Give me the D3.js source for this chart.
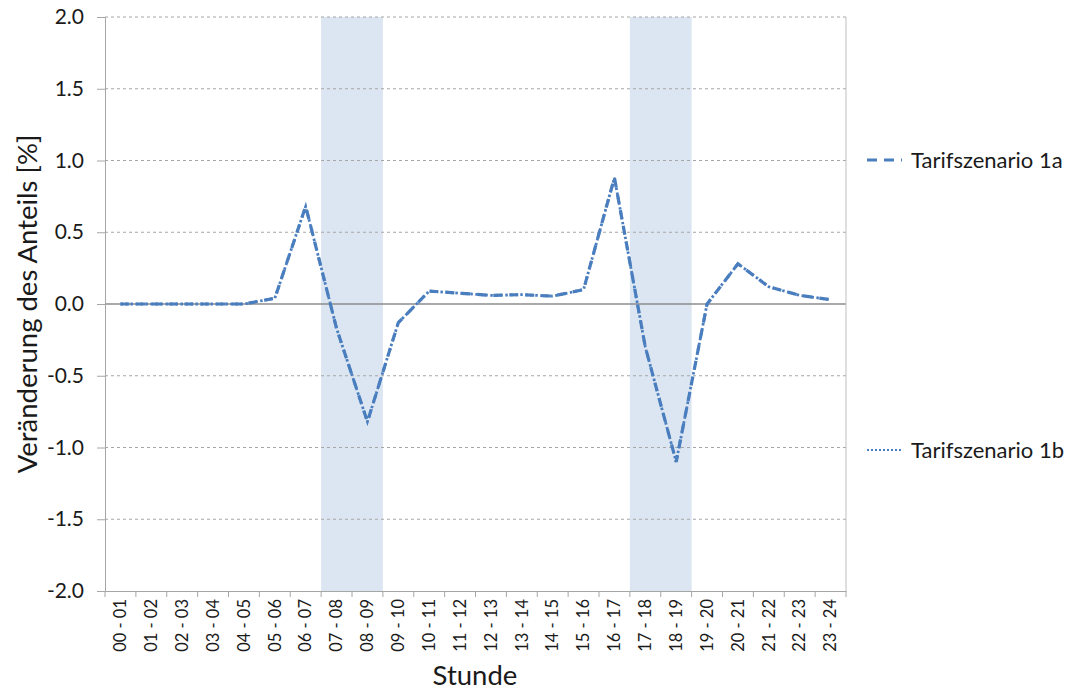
<!DOCTYPE html>
<html><head><meta charset="utf-8">
<script src="https://cdn.jsdelivr.net/npm/d3@7"></script>
<style>body{margin:0;background:#fff}svg{display:block}</style>
</head><body>
<svg id="c" width="1070" height="691"></svg>
<script>
const categories = ["00 - 01","01 - 02","02 - 03","03 - 04","04 - 05","05 - 06","06 - 07","07 - 08","08 - 09","09 - 10","10 - 11","11 - 12","12 - 13","13 - 14","14 - 15","15 - 16","16 - 17","17 - 18","18 - 19","19 - 20","20 - 21","21 - 22","22 - 23","23 - 24"];
const series1a = [0,0,0,0,0,0.04,0.68,-0.17,-0.82,-0.13,0.09,0.075,0.06,0.065,0.055,0.10,0.88,-0.30,-1.10,0.0,0.28,0.12,0.06,0.03];
const series1b = [0,0,0,0,0,0.04,0.68,-0.17,-0.82,-0.13,0.09,0.075,0.06,0.065,0.055,0.10,0.88,-0.30,-1.10,0.0,0.28,0.12,0.06,0.03];
const seriesNames = ["Tarifszenario 1a","Tarifszenario 1b"];
const yTicks = [-2.0,-1.5,-1.0,-0.5,0.0,0.5,1.0,1.5,2.0];
const shaded = [["07 - 08","08 - 09"],["17 - 18","18 - 19"]];

const svg = d3.select("#c");
const m = {l:105, r:846, t:17, b:591};
const x = d3.scaleBand().domain(categories).range([m.l, m.r]).padding(0);
const y = d3.scaleLinear().domain([-2,2]).range([m.b, m.t]);
const font = "Lato, 'Open Sans', sans-serif";
const lineColor = "#4a7ebe";
const txt = "#1a1a1a";

shaded.forEach(([a,b]) => {
  svg.append("rect").attr("x", x(a)).attr("y", m.t)
    .attr("width", x(b) + x.bandwidth() - x(a)).attr("height", m.b - m.t)
    .attr("fill", "#dce6f2");
});

svg.append("g").selectAll("line").data(yTicks.filter(d => d !== 0 && d !== -2))
  .join("line").attr("x1", m.l).attr("x2", m.r)
  .attr("y1", d => y(d)).attr("y2", d => y(d))
  .attr("stroke", "#a6a6a6").attr("stroke-width", 1).attr("stroke-dasharray", "3,3");

svg.append("line").attr("x1", m.l).attr("x2", m.r).attr("y1", y(0)).attr("y2", y(0))
  .attr("stroke", "#8c8c8c").attr("stroke-width", 1.5);

svg.append("line").attr("x1", m.r).attr("x2", m.r).attr("y1", m.t).attr("y2", m.b)
  .attr("stroke", "#bfbfbf").attr("stroke-width", 1);

const fmt = d => d.toFixed(1);
const yAxis = d3.axisLeft(y).tickValues(yTicks).tickFormat(fmt).tickSize(8).tickPadding(13);
const gy = svg.append("g").attr("transform", `translate(${m.l},0)`).call(yAxis);
gy.select(".domain").attr("stroke", "#a6a6a6");
gy.selectAll(".tick line").attr("stroke", "#a6a6a6");
gy.selectAll("text").attr("font-family", font).attr("font-size", 21).attr("fill", txt);

const xAxis = d3.axisBottom(x).tickSize(0).tickFormat(d => d);
const gx = svg.append("g").attr("transform", `translate(0,${m.b})`).call(xAxis);
gx.select(".domain").attr("stroke", "#a6a6a6");
gx.selectAll("text").attr("font-family", font).attr("font-size", 16.5).attr("fill", txt)
  .attr("transform", "rotate(-90)").attr("text-anchor", "end")
  .attr("x", -8).attr("y", 0).attr("dy", "0.35em");
const bounds = categories.map(c => x(c)).concat([m.r]);
svg.append("g").selectAll("line").data(bounds).join("line")
  .attr("x1", d => d).attr("x2", d => d).attr("y1", m.b).attr("y2", m.b + 6)
  .attr("stroke", "#a6a6a6");

const line = d3.line().x((d,i) => x(categories[i]) + x.bandwidth()/2).y(d => y(d));
svg.append("path").datum(series1a).attr("d", line).attr("fill", "none")
  .attr("stroke", lineColor).attr("stroke-width", 3.2).attr("stroke-dasharray", "9,7");
svg.append("path").datum(series1b).attr("d", line).attr("fill", "none")
  .attr("stroke", lineColor).attr("stroke-width", 2.8).attr("stroke-dasharray", "2.5,2.5");

svg.append("text").attr("transform", `translate(37,${y(0)}) rotate(-90)`)
  .attr("text-anchor", "middle").attr("font-family", font).attr("font-size", 27.5).attr("fill", txt)
  .text("Veränderung des Anteils [%]");
svg.append("text").attr("x", 475).attr("y", 685)
  .attr("text-anchor", "middle").attr("font-family", font).attr("font-size", 27.5).attr("fill", txt)
  .text("Stunde");

const leg = [{name: seriesNames[0], y: 160, dash: "10,7", w: 3}, {name: seriesNames[1], y: 450, dash: "2,2", w: 2}];
leg.forEach(l => {
  svg.append("line").attr("x1", 867).attr("x2", 902).attr("y1", l.y).attr("y2", l.y)
    .attr("stroke", lineColor).attr("stroke-width", l.w).attr("stroke-dasharray", l.dash);
  svg.append("text").attr("x", 911).attr("y", l.y).attr("dy", "0.35em")
    .attr("font-family", font).attr("font-size", 22).attr("fill", txt).text(l.name);
});
</script>
</body></html>
